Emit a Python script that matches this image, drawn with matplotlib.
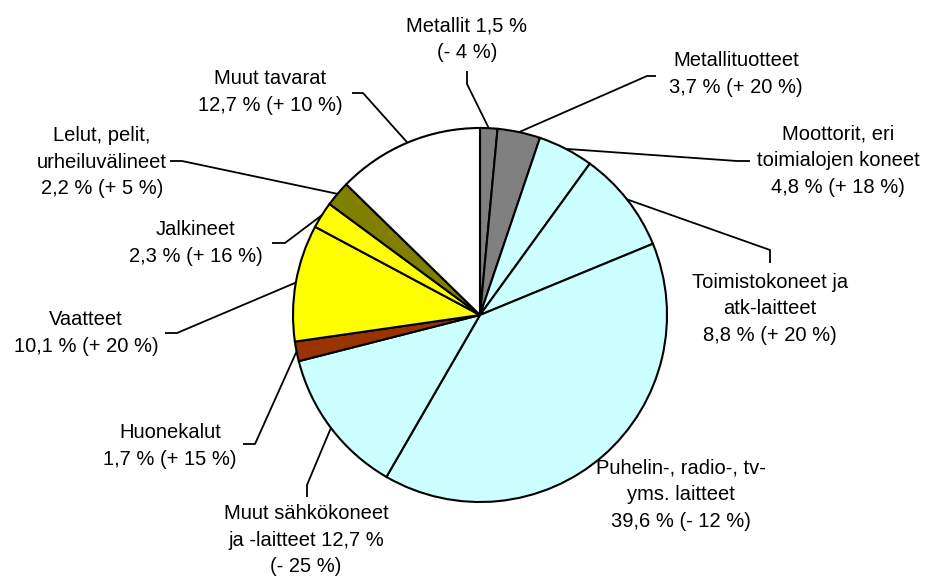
import matplotlib

matplotlib.use("Agg")
import matplotlib.pyplot as plt  # noqa: E402
import numpy as np  # noqa: E402

plt.rcParams["font.family"] = ["Liberation Sans", "DejaVu Sans"]

# Osuus tuonnista (%) ja muutos edellisestä vuodesta (%)
nimet = ["Metallit", "Metallituotteet", "Moottorit", "Toimistokoneet", "Puhelin",
         "Muut sähkökoneet", "Huonekalut", "Vaatteet", "Jalkineet", "Lelut",
         "Muut tavarat"]
osuudet = [1.5, 3.7, 4.8, 8.8, 39.6, 12.7, 1.7, 10.1, 2.3, 2.2, 12.7]
muutokset = [-4, 20, 18, 20, -12, -25, 15, 20, 16, 5, 10]
pohjat = [
    "Metallit {s}\n{c}",
    "Metallituotteet\n{s} {c}",
    "Moottorit, eri\ntoimialojen koneet\n{s} {c}",
    "Toimistokoneet ja\natk-laitteet\n{s} {c}",
    "Puhelin-, radio-, tv-\nyms. laitteet\n{s} {c}",
    "Muut sähkökoneet\nja -laitteet {s}\n{c}",
    "Huonekalut\n{s} {c}",
    "Vaatteet\n{s} {c}",
    "Jalkineet\n{s} {c}",
    "Lelut, pelit,\nurheiluvälineet\n{s} {c}",
    "Muut tavarat\n{s} {c}",
]
varit = ["#808080", "#808080", "#CCFFFF", "#CCFFFF", "#CCFFFF", "#CCFFFF",
         "#993300", "#FFFF00", "#FFFF00", "#808000", "#FFFFFF"]

W, H = 927, 577
KESKI = (480, H - 315)
SADE = 187

# Selitteiden paikat pikseleinä (y ylhäältä): taite, viivan pää, tekstin keskikohta
asettelu = [
    ((467, 84), (467, 71), (467, 39)),
    ((647, 76), (656, 76), (736, 74)),
    ((737, 161), (750, 161), (838, 161)),
    ((770, 250), (770, 263), (770, 309)),
    (None, None, (681, 495)),
    ((307, 485), (307, 497), (306, 540)),
    ((255, 444), (243, 444), (170, 446)),
    ((177, 333), (165, 333), (86, 333)),
    ((285, 243), (272, 243), (196, 243)),
    ((182, 161), (170, 161), (102, 162)),
    ((363, 93), (352, 93), (270, 92)),
]


def _osuus(v):
    return f"{v:.1f}".replace(".", ",") + " %"


def _muutos(m):
    return f"({'+' if m > 0 else '-'} {abs(m)} %)"


fig = plt.figure(figsize=(W / 100, H / 100), dpi=100)
ax = fig.add_axes([0, 0, 1, 1])

kiilat, _ = ax.pie(osuudet, colors=varit, startangle=90, counterclock=False,
                   center=KESKI, radius=SADE,
                   wedgeprops=dict(edgecolor="black", linewidth=1.5))

for kiila, pohja, v, m, (taite, paa, teksti) in zip(
        kiilat, pohjat, osuudet, muutokset, asettelu):
    if taite is not None:
        kulma = np.radians((kiila.theta1 + kiila.theta2) / 2)
        x0 = KESKI[0] + SADE * np.cos(kulma)
        y0 = KESKI[1] + SADE * np.sin(kulma)
        ax.plot([x0, taite[0], paa[0]], [y0, H - taite[1], H - paa[1]],
                color="black", lw=1.3, solid_capstyle="butt")
    ax.text(teksti[0], H - teksti[1], pohja.format(s=_osuus(v), c=_muutos(m)),
            ha="center", va="center", fontsize=14.5, linespacing=1.5,
            color="black")

ax.set_xlim(0, W)
ax.set_ylim(0, H)
ax.set_aspect("equal")
ax.axis("off")

fig.savefig("out.png", dpi=100, facecolor="white")
plt.close(fig)
